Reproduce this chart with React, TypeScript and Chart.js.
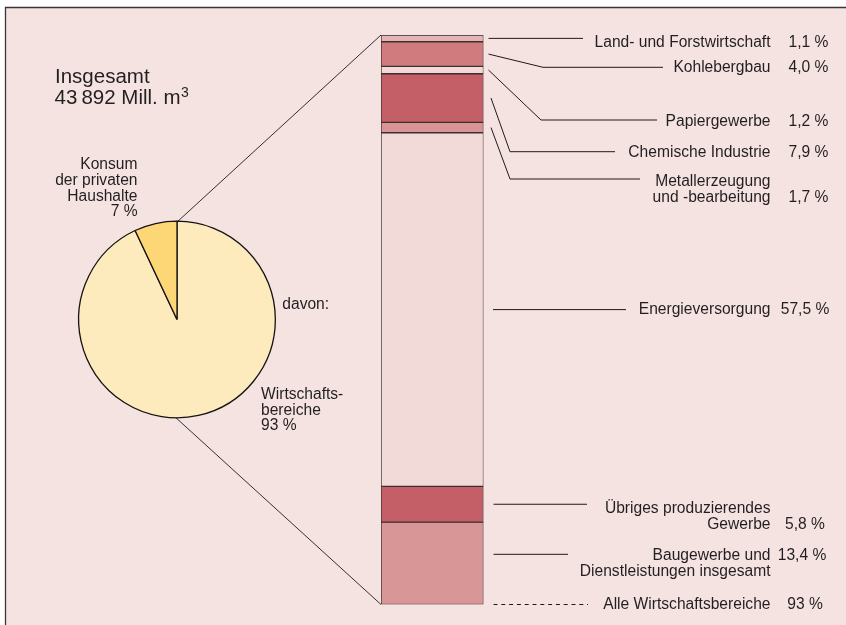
import React, { useEffect, useRef } from 'react';
import { Chart, registerables } from 'chart.js';

Chart.register(...registerables);

const W = 846;
const H = 625;
const FONT = '"Liberation Sans", Arial, Helvetica, sans-serif';
const TEXT = '#231f20';
const LINE = '#1e1a1a';

// ---- data ----
const pieCategories = ['Wirtschaftsbereiche', 'Konsum der privaten Haushalte'];
const pieValues = [93, 7];
const pieColors = ['#fdebbe', '#fdd675'];

const barCategories = [
  'Land- und Forstwirtschaft',
  'Kohlebergbau',
  'Papiergewerbe',
  'Chemische Industrie',
  'Metallerzeugung und -bearbeitung',
  'Energieversorgung',
  'Übriges produzierendes Gewerbe',
  'Baugewerbe und Dienstleistungen insgesamt',
];
const barValues = [1.1, 4.0, 1.2, 7.9, 1.7, 57.5, 5.8, 13.4];
const barColors = ['#e6b4b4', '#d07b7e', '#f3dad8', '#c45f67', '#d99596', '#f2dad8', '#c45f67', '#d99696'];

const titleLine1 = 'Insgesamt';
const titleLine2 = '43\u2009892 Mill. m';
const titleSup = '3';
const summaryLabel = 'Alle Wirtschaftsbereiche';
const pieLeftLabel = ['Konsum', 'der privaten', 'Haushalte'];
const pieRightLabel = ['Wirtschafts-', 'bereiche'];
const davonLabel = 'davon:';

// ---- label layout (annotation positions only) ----
type LabelLayout = {
  lines: string[];
  baselines: number[];
  pctLine: number;
  pctCx: number;
  gap: number;
  endX: number;
  elbowX?: number;
  lineY?: number;
};
const labelLayout: LabelLayout[] = [
  { lines: ['Land- und Forstwirtschaft'], baselines: [46.5], pctLine: 0, pctCx: 808.5, gap: 5, endX: 583 },
  { lines: ['Kohlebergbau'], baselines: [72.3], pctLine: 0, pctCx: 808.5, gap: 5, endX: 663, elbowX: 543, lineY: 67.3 },
  { lines: ['Papiergewerbe'], baselines: [125.5], pctLine: 0, pctCx: 808.5, gap: 5, endX: 657, elbowX: 541, lineY: 120 },
  { lines: ['Chemische Industrie'], baselines: [157], pctLine: 0, pctCx: 808.5, gap: 7.5, endX: 615, elbowX: 510, lineY: 151.7 },
  { lines: ['Metallerzeugung', 'und -bearbeitung'], baselines: [185.5, 201.5], pctLine: 1, pctCx: 808.5, gap: 7.5, endX: 640, elbowX: 510, lineY: 179 },
  { lines: ['Energieversorgung'], baselines: [314.3], pctLine: 0, pctCx: 805, gap: 9.5, endX: 626 },
  { lines: ['Übriges produzierendes', 'Gewerbe'], baselines: [512.7, 528.5], pctLine: 1, pctCx: 805, gap: 10, endX: 587 },
  { lines: ['Baugewerbe und', 'Dienstleistungen insgesamt'], baselines: [560, 576], pctLine: 0, pctCx: 802, gap: 10, endX: 568, lineY: 554.3 },
];

const fmtPct = (v: number) => v.toFixed(1).replace('.', ',') + ' %';
const fmtInt = (v: number) => String(v) + ' %';

export default function App() {
  const pieRef = useRef<HTMLCanvasElement | null>(null);
  const barRef = useRef<HTMLCanvasElement | null>(null);

  useEffect(() => {
    if (!pieRef.current || !barRef.current) return;

    const framePlugin = {
      id: 'frame',
      beforeDraw(chart: any) {
        const ctx = chart.ctx as CanvasRenderingContext2D;
        ctx.save();
        ctx.fillStyle = '#ffffff';
        ctx.fillRect(0, 0, W, H);
        ctx.fillStyle = '#f5e3e2';
        ctx.fillRect(5, 7, W - 5, H - 7);
        ctx.strokeStyle = '#3a3535';
        ctx.lineWidth = 1.3;
        ctx.beginPath();
        ctx.moveTo(5.5, H);
        ctx.lineTo(5.5, 7.5);
        ctx.lineTo(W, 7.5);
        ctx.stroke();
        ctx.restore();
      },
    };

    const pie = new Chart(pieRef.current, {
      type: 'pie',
      data: {
        labels: pieCategories,
        datasets: [
          {
            data: pieValues,
            backgroundColor: pieColors,
            borderColor: '#151212',
            borderWidth: 1.3,
          },
        ],
      },
      options: {
        responsive: false,
        animation: false,
        events: [],
        layout: { padding: { left: 78, top: 220.5, right: W - 276, bottom: H - 418.5 } },
        plugins: { legend: { display: false }, tooltip: { enabled: false } },
      },
      plugins: [framePlugin],
    } as any);

    const overlayPlugin = {
      id: 'overlay',
      afterDraw(chart: any) {
        const ctx = chart.ctx as CanvasRenderingContext2D;
        const els = barCategories.map((_, i) => chart.getDatasetMeta(i).data[0] as any);
        const f = els[0];
        const barLeft = f.x - f.width / 2;
        const barRight = f.x + f.width / 2;
        const barTop = Math.min(f.y, f.base);
        const l = els[els.length - 1];
        const barBottom = Math.max(l.y, l.base);

        ctx.save();
        ctx.strokeStyle = LINE;
        ctx.lineWidth = 1;
        ctx.fillStyle = TEXT;
        ctx.textBaseline = 'alphabetic';

        // pie-to-bar connectors
        const arc = pie.getDatasetMeta(0).data[0] as any;
        if (arc) {
          ctx.lineWidth = 0.9;
          ctx.beginPath();
          ctx.moveTo(arc.x + 1, arc.y - arc.outerRadius);
          ctx.lineTo(barLeft, barTop);
          ctx.moveTo(arc.x - 1, arc.y + arc.outerRadius);
          ctx.lineTo(barLeft, barBottom);
          ctx.stroke();
        }

        // segment labels
        ctx.lineWidth = 1;
        const fontSize = 15.6;
        ctx.font = `${fontSize}px ${FONT}`;
        labelLayout.forEach((lay, i) => {
          const el = els[i];
          const cy = (el.y + el.base) / 2;
          const sx = barRight + lay.gap;
          ctx.beginPath();
          if (lay.elbowX !== undefined && lay.lineY !== undefined) {
            ctx.moveTo(sx, cy);
            ctx.lineTo(lay.elbowX, lay.lineY);
            ctx.lineTo(lay.endX, lay.lineY);
          } else {
            const y = lay.lineY !== undefined ? lay.lineY : cy;
            ctx.moveTo(sx, y);
            ctx.lineTo(lay.endX, y);
          }
          ctx.stroke();
          ctx.textAlign = 'right';
          lay.lines.forEach((t, j) => ctx.fillText(t, 770.5, lay.baselines[j]));
          ctx.textAlign = 'center';
          ctx.fillText(fmtPct(barValues[i]), lay.pctCx, lay.baselines[lay.pctLine]);
        });

        // summary (dashed)
        ctx.save();
        ctx.setLineDash([4, 3.8]);
        ctx.beginPath();
        ctx.moveTo(barRight + 10, barBottom);
        ctx.lineTo(588, barBottom);
        ctx.stroke();
        ctx.restore();
        ctx.textAlign = 'right';
        ctx.fillText(summaryLabel, 770.5, 608.7);
        ctx.textAlign = 'center';
        ctx.fillText(fmtInt(pieValues[0]), 805, 608.7);

        // pie labels
        ctx.textAlign = 'right';
        const leftLines = [...pieLeftLabel, fmtInt(pieValues[1])];
        const lb = [169.3, 185, 200.7, 216.3];
        leftLines.forEach((t, j) => ctx.fillText(t, 137.5, lb[j]));
        ctx.textAlign = 'left';
        ctx.fillText(davonLabel, 282.3, 309.3);
        const rightLines = [...pieRightLabel, fmtInt(pieValues[0])];
        const rb = [399, 414.5, 430];
        rightLines.forEach((t, j) => ctx.fillText(t, 261, rb[j]));

        // title
        ctx.font = `20.5px ${FONT}`;
        ctx.textAlign = 'left';
        ctx.fillText(titleLine1, 55, 83.3);
        ctx.fillText(titleLine2, 54.5, 104.3);
        const w2 = ctx.measureText(titleLine2).width;
        ctx.font = `14px ${FONT}`;
        ctx.fillText(titleSup, 54.5 + w2 + 0.5, 97);

        ctx.restore();
      },
    };

    const total = barValues.reduce((a, b) => a + b, 0);

    const bar = new Chart(barRef.current, {
      type: 'bar',
      data: {
        labels: [''],
        datasets: barCategories.map((c, i) => ({
          label: c,
          data: [barValues[i]],
          backgroundColor: barColors[i],
          borderColor: '#3a3030',
          borderWidth: 1,
          borderSkipped: false,
          barPercentage: 1,
          categoryPercentage: 1,
        })),
      },
      options: {
        responsive: false,
        animation: false,
        events: [],
        layout: { padding: { left: 381, right: W - 483.5, top: 35, bottom: H - 604.5 } },
        scales: {
          x: { display: false, stacked: true },
          y: { display: false, stacked: true, reverse: true, min: 0, max: total },
        },
        plugins: { legend: { display: false }, tooltip: { enabled: false } },
      },
      plugins: [overlayPlugin],
    } as any);

    return () => {
      bar.destroy();
      pie.destroy();
    };
  }, []);

  return (
    <div style={{ position: 'absolute', left: 0, top: 0, width: W, height: H, overflow: 'hidden' }}>
      <canvas ref={pieRef} width={W} height={H} style={{ position: 'absolute', left: 0, top: 0, display: 'block' }} />
      <canvas ref={barRef} width={W} height={H} style={{ position: 'absolute', left: 0, top: 0, display: 'block', pointerEvents: 'none' }} />
    </div>
  );
}
